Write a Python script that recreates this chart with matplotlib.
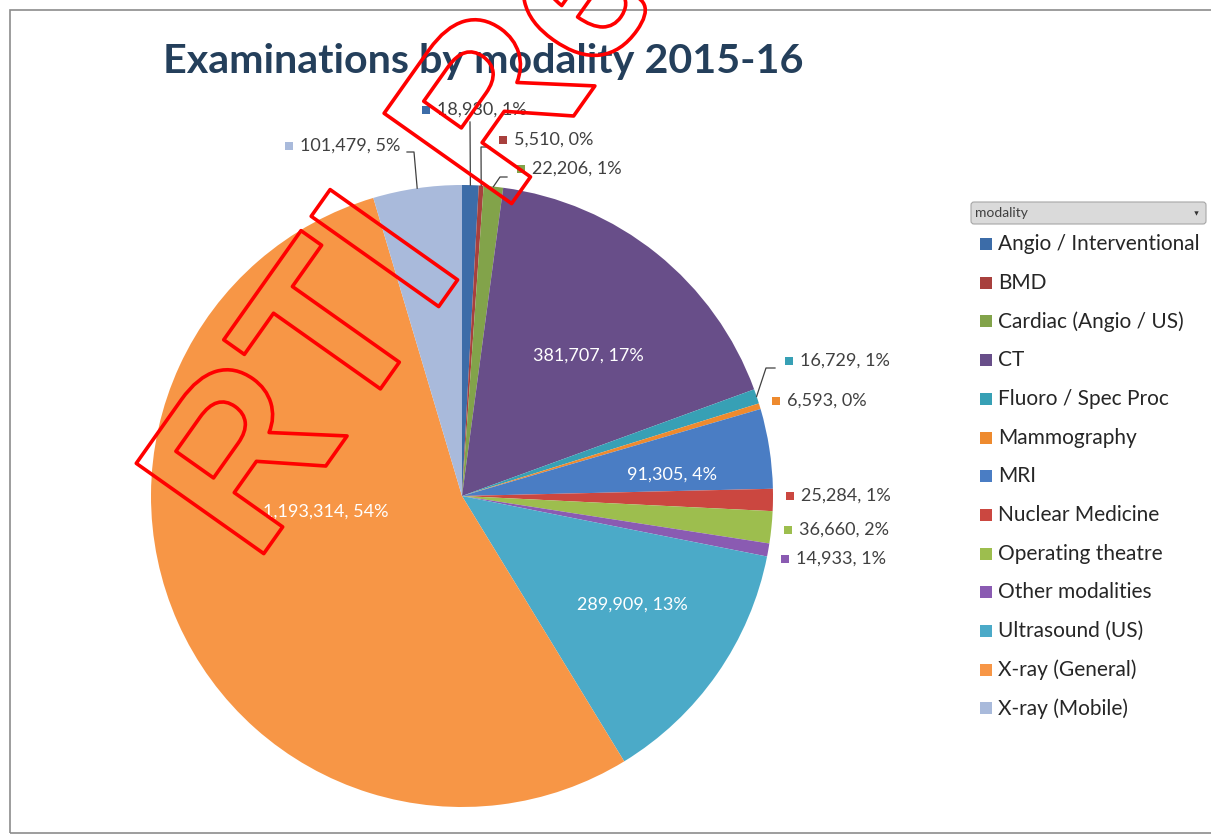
import numpy as np
import matplotlib.pyplot as plt
from matplotlib import patheffects
from matplotlib.patches import Rectangle, FancyBboxPatch

plt.rcParams['font.family'] = ['Lato', 'DejaVu Sans']

# Examinations by modality, 2015-16
modalities = ["Angio / Interventional", "BMD", "Cardiac (Angio / US)", "CT",
              "Fluoro / Spec Proc", "Mammography", "MRI", "Nuclear Medicine",
              "Operating theatre", "Other modalities", "Ultrasound (US)",
              "X-ray (General)", "X-ray (Mobile)"]
exams = [18930, 5510, 22206, 381707, 16729, 6593, 91305, 25284,
         36660, 14933, 289909, 1193314, 101479]
colors = ["#3C6CA8", "#A8403D", "#82A34A", "#684E89", "#37A0B5", "#EE8A2E",
          "#4A7DC4", "#CB4740", "#9DBE4E", "#8A5BB2", "#4BAAC8", "#F79646",
          "#A9BADB"]

W, H = 1211, 836
fig = plt.figure(figsize=(W / 100, H / 100), dpi=100)
ax = fig.add_axes([0, 0, 1, 1])

# pie geometry in pixel units (image y measured from top)
cx, cy, r = 462, 496, 311
wedges, _ = ax.pie(exams, colors=colors, startangle=90, counterclock=False,
                   center=(cx, H - cy), radius=r, wedgeprops=dict(linewidth=0))
ax.set_xlim(0, W)
ax.set_ylim(0, H)
ax.set_aspect('auto')
ax.axis('off')

total = sum(exams)
labels = [f"{v:,}, {round(100 * v / total):.0f}%" for v in exams]

# outside labels: (square x, y) in image px, and leader elbow points
outside = {
    "Angio / Interventional": ((426, 110), [(470, 122)]),
    "BMD": ((503, 140), [(481, 147), (490, 147)]),
    "Cardiac (Angio / US)": ((521, 169), [(500, 177), (507, 177)]),
    "Fluoro / Spec Proc": ((789, 361), [(766, 368), (775, 368)]),
    "Mammography": ((776, 401), []),
    "Nuclear Medicine": ((790, 496), []),
    "Operating theatre": ((788, 530), []),
    "Other modalities": ((785, 559), []),
    "X-ray (Mobile)": ((289, 146), [(414, 152), (407, 152)]),
}
inside = {
    "CT": (588, 356),
    "MRI": (672, 475),
    "Ultrasound (US)": (632, 605),
    "X-ray (General)": (326, 512),
}

cum = np.cumsum([0] + exams[:-1])
for i, name in enumerate(modalities):
    if name in outside:
        (sx, sy), elbow = outside[name]
        ax.scatter(sx, H - sy, marker='s', s=40, color=colors[i], linewidths=0, zorder=5)
        ax.text(sx + 11, H - sy, labels[i], fontsize=13, color="#404040",
                va='center', ha='left', zorder=5)
        if elbow:
            ang = np.radians(90 - 360 * (cum[i] + exams[i] / 2) / total)
            px, py = cx + r * np.cos(ang), (H - cy) + r * np.sin(ang)
            xs = [px] + [e[0] for e in elbow]
            ys = [py] + [H - e[1] for e in elbow]
            ax.plot(xs, ys, color="#404040", lw=0.9, zorder=4)
    else:
        lx, ly = inside[name]
        ax.text(lx, H - ly, labels[i], fontsize=13, color="white",
                va='center', ha='center', zorder=5)

# title
ax.text(163, H - 61, "Examinations by modality 2015-16", fontsize=29.7,
        fontweight='bold', color="#243F5B", va='center', ha='left')

# legend with field button
ax.add_patch(FancyBboxPatch((971, H - 224), 235, 22,
                            boxstyle="round,pad=0,rounding_size=3",
                            facecolor="#DADADA", edgecolor="#A6A6A6", lw=0.8))
ax.text(975, H - 213, "modality", fontsize=10, color="#404040", va='center')
ax.scatter(1196, H - 213, marker='v', s=10, color="#333333", linewidths=0)
for i, name in enumerate(modalities):
    y = H - (244 + i * 38.7)
    ax.scatter(986, y, marker='s', s=70, color=colors[i], linewidths=0)
    ax.text(998, y, name, fontsize=15, color="#262626", va='center', ha='left')

# chart frame
ax.add_patch(Rectangle((10, 3), W + 20, H - 13, facecolor='none',
                       edgecolor="#8C8C8C", lw=1.2, zorder=0))

# stamp across the chart
stamp = ax.text(255, H - 566, "RTI Response", fontsize=163.5, family='Liberation Sans',
                fontweight='bold', color='none', rotation=54.7, rotation_mode='anchor',
                ha='left', va='baseline', zorder=10)
stamp.set_path_effects([patheffects.Stroke(linewidth=2.6, foreground='red')])

fig.savefig("out.png", dpi=100)
